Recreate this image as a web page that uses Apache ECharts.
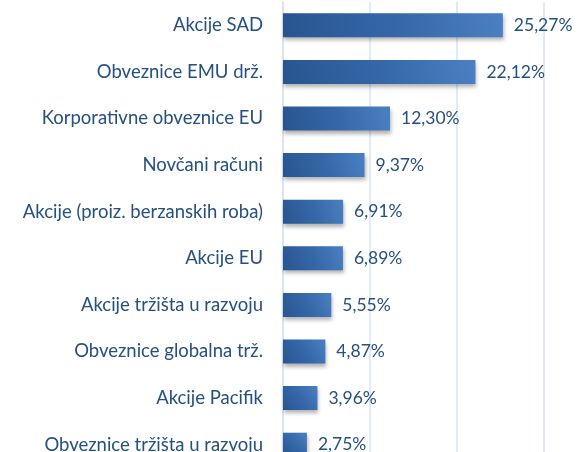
<!DOCTYPE html>
<html>
<head>
<meta charset="utf-8">
<script src="https://cdn.jsdelivr.net/npm/echarts@6/dist/echarts.min.js"></script>
<style>
html,body{margin:0;padding:0;background:#fff;}
#chart{width:580px;height:452px;}
</style>
</head>
<body>
<div id="chart"></div>
<script>
// kategorije odozgo prema dolje
var categories = [
    'Akcije SAD',
    'Obveznice EMU drž.',
    'Korporativne obveznice EU',
    'Novčani računi',
    'Akcije (proiz. berzanskih roba)',
    'Akcije EU',
    'Akcije tržišta u razvoju',
    'Obveznice globalna trž.',
    'Akcije Pacifik',
    'Obveznice tržišta u razvoju'
];
var values = [25.27, 22.12, 12.30, 9.37, 6.91, 6.89, 5.55, 4.87, 3.96, 2.75];
var axisTicks = [0, 10, 20, 30];

var textColor = '#25507f';

var myChart = echarts.init(document.getElementById('chart'));

var option = {
    backgroundColor: '#fff',
    animation: false,
    grid: {
        left: 283,
        right: 36,
        top: 2,
        height: 466,
        containLabel: false,
        outerBoundsMode: 'none'
    },
    xAxis: {
        type: 'value',
        min: axisTicks[0],
        max: axisTicks[axisTicks.length - 1],
        interval: 10,
        axisLabel: { show: false },
        axisLine: { show: false },
        axisTick: { show: false },
        splitLine: {
            show: true,
            lineStyle: { color: '#d6e4f2', width: 1.5 }
        }
    },
    yAxis: {
        type: 'category',
        inverse: true,
        data: categories,
        axisLine: { show: true, lineStyle: { color: '#d6e4f2', width: 1.5 } },
        axisTick: { show: false },
        axisLabel: {
            color: textColor,
            fontFamily: 'Lato',
            fontSize: 18.5,
            margin: 20
        }
    },
    series: [{
        type: 'bar',
        data: values,
        barWidth: 24,
        itemStyle: {
            color: new echarts.graphic.LinearGradient(0, 1, 1, 0, [
                { offset: 0, color: '#28558f' },
                { offset: 0.5, color: '#3567a8' },
                { offset: 1, color: '#4a80c2' }
            ]),
            shadowColor: 'rgba(0,0,0,0.3)',
            shadowBlur: 4,
            shadowOffsetX: 1,
            shadowOffsetY: 3
        },
        label: {
            show: true,
            position: 'right',
            distance: 11,
            color: textColor,
            fontFamily: 'Lato',
            fontSize: 17.5,
            formatter: function (p) {
                return p.value.toFixed(2).replace('.', ',') + '%';
            }
        }
    }]
};

myChart.setOption(option);
</script>
</body>
</html>
